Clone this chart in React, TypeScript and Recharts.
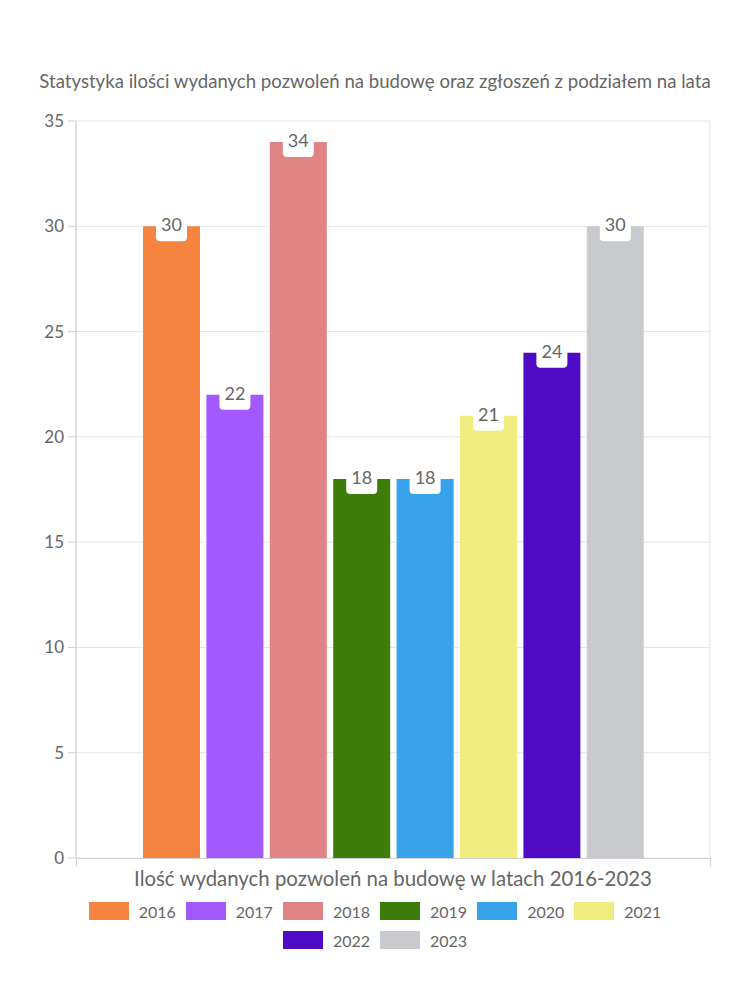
import React from 'react';
import { BarChart, Bar, XAxis, YAxis, CartesianGrid, LabelList } from 'recharts';

// dane z wykresu
const years = ['2016', '2017', '2018', '2019', '2020', '2021', '2022', '2023'];
const values = [30, 22, 34, 18, 18, 21, 24, 30];
const colors = ['#F4843F', '#A259FF', '#E08384', '#3F7D0B', '#37A3EA', '#F0EC7E', '#500BC4', '#C9CACE'];
const yTicks = [0, 5, 10, 15, 20, 25, 30, 35];

const TITLE = 'Statystyka ilości wydanych pozwoleń na budowę oraz zgłoszeń z podziałem na lata';
const X_TITLE = 'Ilość wydanych pozwoleń na budowę w latach 2016-2023';

const FONT = 'Lato, "Noto Sans", sans-serif';
const TEXT = '#666';
const AXIS = '#d0d0d0';

const row: Record<string, string | number> = { name: X_TITLE };
years.forEach((y, i) => { row['y' + y] = values[i]; });
const chartData = [row];

// biała "plakietka" z wartością na końcu słupka
const ValueBadge = (props: any) => {
    const { x, y, width, value } = props;
    const cx = x + width / 2;
    const w = String(value).length * 10 + 11;
    return (
        <g>
            <rect x={cx - w / 2} y={y - 19} width={w} height={34} rx={4} fill="#fff" />
            <text x={cx} y={y - 2} textAnchor="middle" dominantBaseline="central" fill={TEXT} fontSize={18} fontFamily={FONT}>
                {value}
            </text>
        </g>
    );
};

export default function App() {
    return (
        <div style={{ position: 'absolute', left: 0, top: 0, width: 750, height: 1000, background: '#fff', fontFamily: FONT }}>
            <div style={{ position: 'absolute', top: 70, left: 0, width: 750, textAlign: 'center', fontSize: 18.6, color: TEXT, whiteSpace: 'nowrap' }}>
                {TITLE}
            </div>
            <BarChart
                width={750}
                height={1000}
                data={chartData}
                margin={{ top: 121, right: 40, left: 8, bottom: 142 }}
                barSize={57}
                barGap={6.4}
            >
                <CartesianGrid
                    stroke="#e6e6e6"
                    verticalCoordinatesGenerator={(p: any) => [p.offset.left, p.offset.left + p.offset.width]}
                />
                <XAxis dataKey="name" hide />
                <YAxis
                    domain={[0, 35]}
                    ticks={yTicks}
                    width={68}
                    axisLine={{ stroke: AXIS }}
                    tickLine={{ stroke: AXIS }}
                    tickSize={8}
                    tickMargin={4}
                    tick={{ fill: TEXT, fontSize: 17, fontFamily: FONT }}
                />
                {years.map((y, i) => (
                    <Bar key={y} dataKey={'y' + y} name={y} fill={colors[i]} isAnimationActive={false}>
                        <LabelList dataKey={'y' + y} content={ValueBadge} />
                    </Bar>
                ))}
            </BarChart>
            {/* linia zera i krótkie kreski pod osią */}
            <div style={{ position: 'absolute', top: 858, left: 76, width: 634, height: 1, background: AXIS }} />
            <div style={{ position: 'absolute', top: 858, left: 76, width: 1, height: 8, background: AXIS }} />
            <div style={{ position: 'absolute', top: 858, left: 710, width: 1, height: 8, background: AXIS }} />
            <div style={{ position: 'absolute', top: 866, left: 76, width: 634, textAlign: 'center', fontSize: 20.4, color: TEXT, whiteSpace: 'nowrap' }}>
                {X_TITLE}
            </div>
            <div style={{ position: 'absolute', top: 900, left: 75, width: 600, display: 'flex', flexWrap: 'wrap', justifyContent: 'center', rowGap: 7 }}>
                {years.map((y, i) => (
                    <div key={y} style={{ display: 'flex', alignItems: 'center', margin: '0 5px', height: 22 }}>
                        <span style={{ display: 'inline-block', width: 40, height: 18, background: colors[i], marginRight: 10 }} />
                        <span style={{ fontSize: 16, color: TEXT }}>{y}</span>
                    </div>
                ))}
            </div>
        </div>
    );
}
